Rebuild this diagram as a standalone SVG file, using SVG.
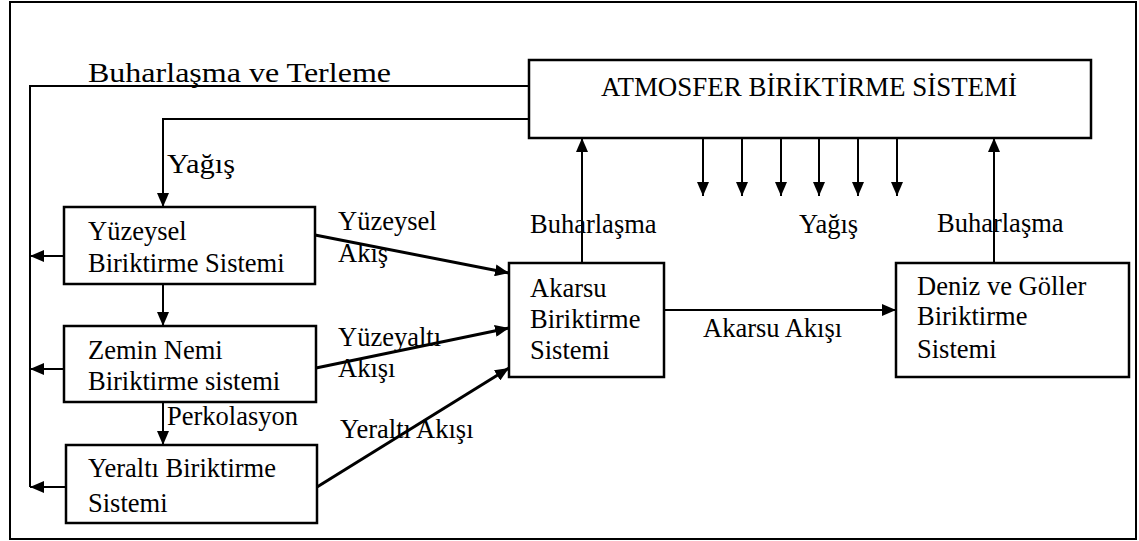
<svg xmlns="http://www.w3.org/2000/svg" width="1139" height="541" viewBox="0 0 1139 541">
<style>
text{font-family:"Liberation Serif","Times New Roman",serif;font-size:26.5px;fill:#000}
.box{fill:#fff;stroke:#000;stroke-width:2.5}
.ln{fill:none;stroke:#000;stroke-width:2}
.ar{fill:none;stroke:#000;stroke-width:2;marker-end:url(#ah)}
.dg{fill:none;stroke:#000;stroke-width:3;marker-end:url(#ah)}
</style>
<defs>
<marker id="ah" markerUnits="userSpaceOnUse" markerWidth="14" markerHeight="12" refX="14" refY="6" orient="auto">
<path d="M0,0 L14,6 L0,12 z" fill="#000"/>
</marker>
</defs>
<rect x="0" y="0" width="1139" height="541" fill="#fff"/>
<rect x="10" y="2" width="1126" height="537" fill="none" stroke="#000" stroke-width="2"/>

<g id="connectors">
<polyline class="ln" points="529,86 30,86 30,487"/>
<line class="ar" x1="64" y1="256" x2="30" y2="256"/>
<line class="ar" x1="64" y1="369" x2="30" y2="369"/>
<line class="ar" x1="66" y1="487" x2="30" y2="487"/>
<polyline class="ar" points="529,119 163,119 163,207"/>
<line class="ar" x1="163" y1="284" x2="163" y2="326"/>
<line class="ar" x1="163" y1="402" x2="163" y2="445"/>
<line class="dg" x1="315" y1="235" x2="509" y2="273"/>
<line class="dg" x1="316" y1="368" x2="509" y2="328"/>
<line class="dg" x1="317" y1="487" x2="509" y2="368"/>
<line class="ar" x1="582" y1="263" x2="582" y2="138"/>
<line class="ar" x1="994" y1="263" x2="994" y2="138"/>
<line class="ar" x1="664" y1="310" x2="896" y2="310"/>
<line class="ar" x1="703" y1="138" x2="703" y2="196"/>
<line class="ar" x1="742" y1="138" x2="742" y2="196"/>
<line class="ar" x1="781" y1="138" x2="781" y2="196"/>
<line class="ar" x1="819" y1="138" x2="819" y2="196"/>
<line class="ar" x1="858" y1="138" x2="858" y2="196"/>
<line class="ar" x1="897" y1="138" x2="897" y2="196"/>
</g>

<g id="labels">
<text x="88" y="82" font-size="30" textLength="303" lengthAdjust="spacingAndGlyphs">Buharlaşma ve Terleme</text>
<text x="167" y="173" font-size="28" textLength="68" lengthAdjust="spacingAndGlyphs">Yağış</text>
<text x="338" y="230">Yüzeysel</text>
<text x="338" y="262">Akış</text>
<text x="338" y="346">Yüzeyaltı</text>
<text x="338" y="377">Akışı</text>
<text x="167" y="425">Perkolasyon</text>
<text x="340" y="438">Yeraltı Akışı</text>
<text x="530" y="233">Buharlaşma</text>
<text x="799" y="233">Yağış</text>
<text x="937" y="232">Buharlaşma</text>
<text x="703" y="337">Akarsu Akışı</text>
</g>

<g id="atmosfer">
<rect class="box" x="529" y="60" width="562" height="78"/>
<text x="809" y="96" text-anchor="middle" font-size="27" textLength="416" lengthAdjust="spacingAndGlyphs">ATMOSFER BİRİKTİRME SİSTEMİ</text>
</g>
<g id="yuzeysel">
<rect class="box" x="64" y="207" width="251" height="77"/>
<text x="88" y="240">Yüzeysel</text>
<text x="88" y="272">Biriktirme Sistemi</text>
</g>
<g id="zemin">
<rect class="box" x="64" y="326" width="252" height="76"/>
<text x="88" y="359">Zemin Nemi</text>
<text x="88" y="390">Biriktirme sistemi</text>
</g>
<g id="yeralti">
<rect class="box" x="66" y="445" width="251" height="78"/>
<text x="88" y="477">Yeraltı Biriktirme</text>
<text x="88" y="512">Sistemi</text>
</g>
<g id="akarsu">
<rect class="box" x="509" y="263" width="155" height="114"/>
<text x="530" y="297">Akarsu</text>
<text x="530" y="328">Biriktirme</text>
<text x="530" y="359">Sistemi</text>
</g>
<g id="deniz">
<rect class="box" x="896" y="263" width="233" height="114"/>
<text x="917" y="295">Deniz ve Göller</text>
<text x="917" y="325">Biriktirme</text>
<text x="917" y="358">Sistemi</text>
</g>
</svg>
